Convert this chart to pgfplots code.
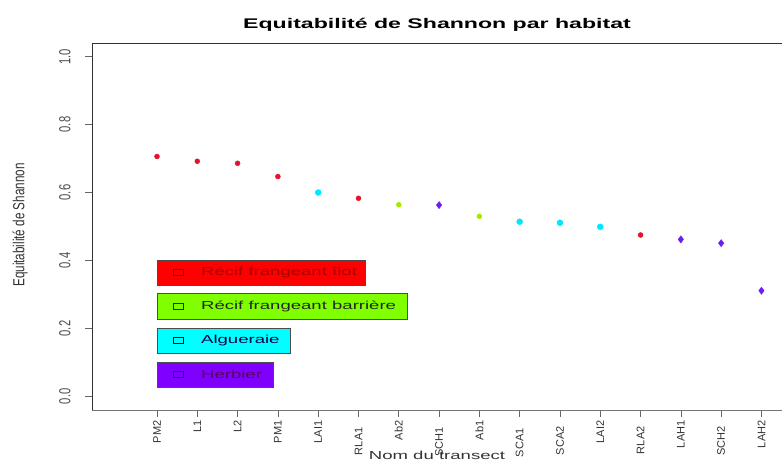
\documentclass[border=0pt]{standalone}
\usepackage{pgfplots}
\pgfplotsset{compat=1.18}
\usepackage{fontspec}
\setmainfont{Liberation Sans}
\newfontfamily\ylabfont[FakeStretch=0.73]{Liberation Sans}
\newfontfamily\ytickfont[FakeStretch=0.7]{Liberation Sans}
\newfontfamily\xtickfont[FakeStretch=1.0]{Liberation Sans}
\newfontfamily\widefont[FakeStretch=1.6]{Liberation Sans}
\newfontfamily\titlefont[FakeStretch=1.65]{Liberation Sans}
\definecolor{cRed}{HTML}{E8102A}
\definecolor{cGreen}{HTML}{A8E800}
\definecolor{cCyan}{HTML}{00E8FF}
\definecolor{cPurple}{HTML}{6A1FF0}
\definecolor{fRed}{HTML}{FF0000}
\definecolor{fGreen}{HTML}{80FF00}
\definecolor{fCyan}{HTML}{00FFFF}
\definecolor{fPurple}{HTML}{8000FF}
\definecolor{axc}{HTML}{303030}
\begin{document}
\begin{tikzpicture}
\begin{axis}[
  scale only axis, width=690pt, height=367pt,
  xmin=-0.613, xmax=16.51, ymin=-0.04, ymax=1.04,
  axis x line*=bottom, axis y line*=left,
  y axis line style={axc, line width=0.8pt},
  x axis line style={black!55, line width=0.8pt},
  tick style={black!60, line width=0.6pt},
  tick align=outside, major tick length=7pt,
  xtick={1,...,16},
  xticklabels={PM2,L1,L2,PM1,LAI1,RLA1\hspace*{7pt},Ab2,SCH1\hspace*{7pt},Ab1,SCA1\hspace*{8pt},SCA2\hspace*{6pt},LAI2,RLA2\hspace*{6pt},LAH1,SCH2\hspace*{6pt},LAH2},
  x tick label style={rotate=90, anchor=east, font=\xtickfont\fontsize{11}{11}\selectfont, text=black!80},
  ytick={0,0.2,0.4,0.6,0.8,1.0},
  yticklabels={0.0,0.2,0.4,0.6,0.8,1.0},
  y tick label style={xshift=-11pt, rotate=90, anchor=south, font=\ytickfont\fontsize{16}{16}\selectfont, text=black!70},
  xlabel={Nom du transect},
  xlabel style={at={(axis description cs:0.5,-0.123)}, anchor=center, font=\widefont\fontsize{11.6}{11.6}\selectfont, text=black!80},
  ylabel={Equitabilité de Shannon},
  ylabel style={at={(axis description cs:-0.104,0.504)}, anchor=center, rotate=0, font=\ylabfont\fontsize{16}{16}\selectfont, text=black!80},
  title={Equitabilité de Shannon par habitat},
  title style={at={(axis description cs:0.5,1.033)}, anchor=center, font=\titlefont\bfseries\fontsize{14}{14}\selectfont},
  clip=false,
]
\draw[axc, line width=0.8pt] (rel axis cs:0,1) -- (rel axis cs:1.02,1);
\addplot[only marks, mark=*, mark size=2.5pt, color=cRed] coordinates {(1,0.706) (2,0.692) (3,0.686) (4,0.647) (6,0.583) (13,0.475)};
\addplot[only marks, mark=*, mark size=2.5pt, color=cGreen] coordinates {(7,0.564) (9,0.530)};
\addplot[only marks, mark=*, mark size=3pt, color=cCyan] coordinates {(5,0.600) (10,0.514) (11,0.511) (12,0.499)};
\addplot[only marks, mark=diamond*, mark size=3.6pt, color=cPurple] coordinates {(8,0.563) (14,0.462) (15,0.451) (16,0.311)};
% legend boxes
\draw[fill=fRed, draw=black!70, line width=0.6pt] (axis cs:1.0,0.328) rectangle (axis cs:6.16,0.402);
\draw[fill=fGreen, draw=black!70, line width=0.6pt] (axis cs:1.0,0.228) rectangle (axis cs:7.20,0.302);
\draw[fill=fCyan, draw=black!70, line width=0.6pt] (axis cs:1.0,0.127) rectangle (axis cs:4.30,0.201);
\draw[fill=fPurple, draw=black!70, line width=0.6pt] (axis cs:1.0,0.027) rectangle (axis cs:3.88,0.101);
\node[draw=red!50!black, minimum width=10pt, minimum height=6pt, inner sep=0pt, line width=0.6pt] at (axis cs:1.52,0.365) {};
\node[draw=black!85, minimum width=10pt, minimum height=6pt, inner sep=0pt, line width=0.6pt] at (axis cs:1.52,0.265) {};
\node[draw=blue!30!black, minimum width=10pt, minimum height=6pt, inner sep=0pt, line width=0.6pt] at (axis cs:1.52,0.164) {};
\node[draw=violet!60!black, minimum width=10pt, minimum height=6pt, inner sep=0pt, line width=0.6pt] at (axis cs:1.52,0.064) {};
\node[anchor=west, inner sep=0pt, text=red!65!black, font=\widefont\fontsize{11.6}{11.6}\selectfont] at (axis cs:2.09,0.365) {Récif frangeant îlot};
\node[anchor=west, inner sep=0pt, text=black!85, font=\widefont\fontsize{11.6}{11.6}\selectfont] at (axis cs:2.09,0.265) {Récif frangeant barrière};
\node[anchor=west, inner sep=0pt, text=blue!30!black, font=\widefont\fontsize{11.6}{11.6}\selectfont] at (axis cs:2.09,0.164) {Algueraie};
\node[anchor=west, inner sep=0pt, text=violet!70!black, font=\widefont\fontsize{11.6}{11.6}\selectfont] at (axis cs:2.09,0.064) {Herbier};
\end{axis}
\pgfresetboundingbox
\path[use as bounding box] (-92pt,-53pt) rectangle (690pt,410pt);
\end{tikzpicture}
\end{document}
